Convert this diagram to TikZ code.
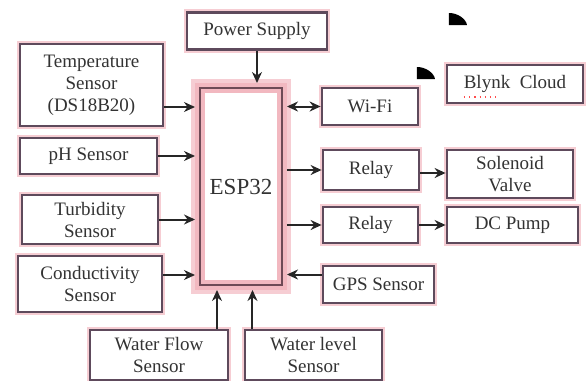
\documentclass[tikz,border=0pt]{standalone}
\usepackage{fontspec}
\setmainfont{Liberation Serif}
\usetikzlibrary{arrows.meta}
\definecolor{bord}{HTML}{5E4A5C}
\definecolor{glow}{HTML}{F6CDD3}
\definecolor{espglow}{HTML}{F2B8C0}
\definecolor{espline}{HTML}{6E4A56}
\definecolor{txt}{HTML}{333333}
\tikzset{
  blk/.style={draw=bord,line width=1.4pt,fill=white,preaction={draw=glow,line width=3.4pt},
    align=center,inner sep=1pt,text=txt,font=\fontsize{9.5}{11}\selectfont},
  esp/.style={fill=white,draw=espglow,line width=5pt,preaction={draw=glow,line width=9pt},
    postaction={draw=espline,line width=0.8pt},text=txt,font=\fontsize{11.5}{13}\selectfont},
  arr/.style={-{Stealth[length=5.5pt,width=5pt]},line width=1pt,draw=black!85},
  darr/.style={{Stealth[length=5.5pt,width=5pt]}-{Stealth[length=5.5pt,width=5pt]},line width=1pt,draw=black!85}
}
\newcommand{\blk}[6]{\node[blk,minimum width=#4*0.5pt,minimum height=#5*0.5pt] (#1) at (#2,#3) {#6};}

\begin{document}
\begin{tikzpicture}[x=0.5pt,y=-0.5pt]
	\useasboundingbox (0,0) rectangle (586,381);
	\node[esp,minimum width=41pt,minimum height=98.5pt] (esp) at (241,186.5) {ESP32};
	\blk{power}{257}{31}{140}{37}{Power Supply}
	\blk{temp}{91.5}{85}{143}{82}{Temperature\\Sensor\\(DS18B20)}
	\blk{ph}{88.5}{156}{137}{36}{pH Sensor}
	\blk{turb}{90}{219.5}{136}{49}{Turbidity\\Sensor}
	\blk{cond}{90}{284}{144}{56}{Conductivity\\Sensor}
	\blk{flow}{159}{355}{138}{50}{Water Flow\\Sensor}
	\blk{level}{313.5}{355}{137}{50}{Water level\\Sensor}
	\blk{wifi}{370}{106.5}{96}{37}{Wi-Fi}
	\blk{blynk}{515}{84}{136}{38}{Blynk~ Cloud}
	\blk{relayA}{371}{170}{96}{40}{Relay}
	\blk{valve}{510}{174}{126}{48}{Solenoid\\Valve}
	\blk{relayB}{370.5}{225}{95}{36}{Relay}
	\blk{pump}{512.5}{225}{131}{36}{DC Pump}
	\blk{gps}{378.5}{284.5}{111}{37}{GPS Sensor}
	% inputs
	\draw[arr] (power.south) -- (power.south |- esp.north);
	\draw[arr] ([yshift=-11pt]temp.east) -- ([yshift=-11pt]temp.east -| esp.west);
	\draw[arr] (ph.east) -- (ph.east -| esp.west);
	\draw[arr] (turb.east) -- (turb.east -| esp.west);
	\draw[arr] ([yshift=4.5pt]cond.east) -- ([yshift=4.5pt]cond.east -| esp.west);
	\draw[arr] ([xshift=29pt]flow.north) -- ([xshift=29pt]flow.north |- esp.south);
	\draw[arr] ([xshift=-30.5pt]level.north) -- ([xshift=-30.5pt]level.north |- esp.south);
	\draw[arr] ([yshift=5pt]gps.west) -- ([yshift=5pt]gps.west -| esp.east);
	% outputs
	\draw[darr] (wifi.west -| esp.east) -- (wifi.west);
	\draw[arr] (relayA.west -| esp.east) -- (relayA.west);
	\draw[arr] ([yshift=-1.5pt]relayA.east) -- ([yshift=-1.5pt]relayA.east -| valve.west);
	\draw[arr] (relayB.west -| esp.east) -- (relayB.west);
	\draw[arr] (relayB.east) -- (relayB.east -| pump.west);
	% marks
	\draw[red!70,line width=0.6pt,dotted] (464,97) -- (500,97);
	\fill (449,25) -- (449,13) .. controls (458,13) and (466,19) .. (467,25) -- cycle;
	\fill (417,79) -- (417,67) .. controls (426,67) and (434,73) .. (435,79) -- cycle;
\end{tikzpicture}
\end{document}
